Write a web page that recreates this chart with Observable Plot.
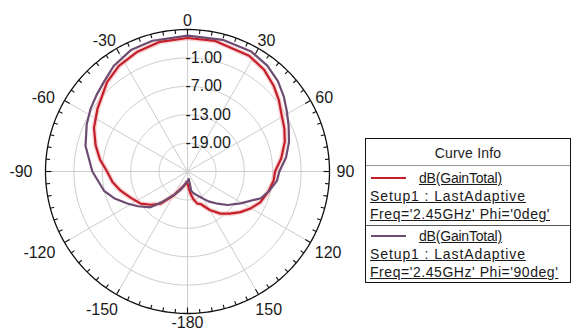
<!DOCTYPE html>
<html><head><meta charset="utf-8">
<script src="https://cdn.jsdelivr.net/npm/d3@7"></script>
<script src="https://cdn.jsdelivr.net/npm/@observablehq/plot@0.6"></script>
<style>
body{margin:0;background:#fff;}
#wrap{position:relative;width:574px;height:331px;overflow:hidden;font-family:"Liberation Sans",Arial,sans-serif;color:#1a1a1a;}
#chart{position:absolute;left:0;top:0;}
#legend{position:absolute;left:365px;top:138px;width:206px;height:145px;border:1px solid #111;box-sizing:border-box;background:#fff;}
#legend .t{position:absolute;font-size:14px;line-height:16px;white-space:nowrap;text-decoration:underline;text-underline-offset:1px;}
#legend .hdr{position:absolute;left:0;width:100%;top:6px;text-align:center;font-size:14px;line-height:16px;letter-spacing:0.2px;}
#legend .sep{position:absolute;left:0;width:100%;height:0;border-top:1px solid #9a9a9a;}
#legend .sw{position:absolute;left:5px;width:35px;height:0;border-top:2.5px solid;}
</style></head><body>
<div id="wrap"><div id="chart"></div><div id="legend"></div></div>
<script>
// ---- data ----
const angleTicks  = [0, 30, 60, 90, 120, 150, 180, -150, -120, -90, -60, -30];
const angleLabels = ["0","30","60","90","120","150","-180","-150","-120","-90","-60","-30"];
const ringValues  = [-19, -13, -7, -1];
const ringLabels  = ["-19.00", "-13.00", "-7.00", "-1.00"];
const rMin = -25, rMax = 5;

const seriesNames = ["Phi='0deg'", "Phi='90deg'"];
const seriesColors = ["#c41e2a", "#6c4c70"];

// Phi = 0deg (red)
const phi0Angles = [-180,-175,-168,-158,-150,-140,-132,-124.5,-115,-106,-98,-90,-82,-74,-65,-55,-42,-33,-23,-12,0,12,28,37,45,52,59,66,73,82,90,96,104,113,120,127.5,135,142,150,158,163,168,172,176];
const phi0Gain   = [-22.5,-22.7,-22.0,-21.0,-19.2,-16.1,-14.5,-13.0,-11.8,-10.3,-9.0,-8.0,-6.3,-4.8,-3.2,-1.8,0.4,1.6,2.4,3.0,3.2,3.2,2.7,1.9,0.7,-0.5,-1.8,-2.6,-3.5,-5.0,-6.5,-6.7,-7.4,-8.3,-9.5,-10.9,-12.4,-13.7,-15.6,-17.6,-17.9,-19.0,-20.2,-21.5];

// Phi = 90deg (purple)
const phi90Angles = [-180,-170,-160,-150,-140,-134,-125,-118,-110,-103,-90,-76,-65,-57,-50,-43,-35,-25,-15,0,15,28,37,45,52,59,66,74,82,90,96,103,110,121,130,137,145,153,160,165,169,170,175];
const phi90Gain   = [-23.0,-22.4,-21.0,-19.3,-16.5,-14.1,-12.2,-10.6,-8.5,-6.9,-4.9,-2.8,-1.5,-0.6,0.1,0.9,2.2,3.3,3.6,3.7,3.8,3.7,3.0,2.0,0.8,-0.5,-1.6,-2.7,-4.0,-5.6,-6.0,-7.2,-8.5,-11.9,-14.0,-15.7,-17.3,-18.9,-19.8,-20.3,-20.8,-23.4,-23.2];

const legendTexts = ["dB(GainTotal)", "Setup1 : LastAdaptive", "Freq='2.45GHz' "];

// ---- geometry helpers ----
const W = 574, H = 331;
const CX = 187, CY = 171, RPX = 142;          // centre and outer radius in pixels (layout)
const span = rMax - rMin;
const pxPerUnit = RPX / span;
const rad = d => d * Math.PI / 180;
const px = (deg, dB) => (dB - rMin) * Math.sin(rad(deg));
const py = (deg, dB) => (dB - rMin) * Math.cos(rad(deg));

const curves = [];
phi0Angles.forEach((a, i) => curves.push({s: seriesNames[0], a, g: phi0Gain[i]}));
phi90Angles.forEach((a, i) => curves.push({s: seriesNames[1], a, g: phi90Gain[i]}));

const ringPts = [];
ringValues.forEach(v => { for (let a = 0; a <= 360; a += 2) ringPts.push({v, a}); });
const outerPts = []; for (let a = 0; a <= 360; a += 1) outerPts.push({a});

const tickAngles = d3.range(-180, 180, 5);

// label placement: text box just outside the outer circle
const charW = c => c === "-" ? 5.3 : 8.9;
const gap = 7, txtH = 12;
const labelData = angleTicks.map((a, i) => {
  const t = angleLabels[i];
  const w = [...t].reduce((s, c) => s + charW(c), 0);
  const ux = Math.sin(rad(a)), uy = Math.cos(rad(a));
  let dx = (RPX + gap) * ux + (w / 2) * ux - 6 * Math.max(0, -ux);
  let dy = (RPX + gap) * uy + (txtH / 2) * uy - (Math.abs(uy) > 0.2 ? 4 : 0);
  dy = Math.max(dy, -(H - CY) + 8.5);   // keep inside the picture
  return {t, x: dx / pxPerUnit, y: dy / pxPerUnit};
});

const chart = Plot.plot({
  width: W, height: H,
  margin: 0,
  x: {domain: [-CX / pxPerUnit, (W - CX) / pxPerUnit], axis: null},
  y: {domain: [-(H - CY) / pxPerUnit, CY / pxPerUnit], axis: null},
  style: {fontFamily: "'Liberation Sans', Arial, sans-serif", background: "#fff"},
  color: {domain: seriesNames, range: seriesColors},
  marks: [
    Plot.line(ringPts, {x: d => px(d.a, d.v), y: d => py(d.a, d.v), z: "v", stroke: "#cdcdcd", strokeWidth: 1}),
    Plot.link(angleTicks, {x1: 0, y1: 0, x2: a => px(a, rMax), y2: a => py(a, rMax), stroke: "#cdcdcd", strokeWidth: 1}),
    Plot.line(outerPts, {x: d => px(d.a, rMax), y: d => py(d.a, rMax), stroke: "#111", strokeWidth: 1.3}),
    Plot.link(tickAngles, {
      x1: a => px(a, rMax), y1: a => py(a, rMax),
      x2: a => px(a, rMax - (a % 30 === 0 ? 6 : 4) / pxPerUnit),
      y2: a => py(a, rMax - (a % 30 === 0 ? 6 : 4) / pxPerUnit),
      stroke: "#111", strokeWidth: 1.1
    }),
    Plot.line(curves.filter(d => d.s === seriesNames[0]), {x: d => px(d.a, d.g), y: d => py(d.a, d.g), curve: "linear-closed", stroke: "#f4b7b7", strokeWidth: 5, strokeOpacity: 0.6}),
    Plot.line(curves, {x: d => px(d.a, d.g), y: d => py(d.a, d.g), z: "s", curve: "linear-closed",
      stroke: d => d.s, strokeWidth: 2.2, strokeLinejoin: "round"}),
    Plot.text(ringValues, {x: -2 / pxPerUnit, y: v => v - rMin, text: (v, i) => ringLabels[i], textAnchor: "start", lineAnchor: "middle", fontSize: 16, fill: "#1a1a1a"}),
    Plot.text(labelData, {x: "x", y: "y", text: "t", textAnchor: "middle", lineAnchor: "middle", fontSize: 16, fill: "#1a1a1a"})
  ]
});
document.getElementById("chart").appendChild(chart);

// ---- legend ----
const lg = document.getElementById("legend");
let html = `<div class="hdr">Curve Info</div><div class="sep" style="top:26px"></div>`;
seriesNames.forEach((name, i) => {
  const top = 30 + i * 58;
  html += `<div class="sw" style="top:${top + 8}px;border-top-color:${seriesColors[i]}"></div>`;
  html += `<div class="t" style="left:53px;top:${top + 1}px;letter-spacing:-0.2px">${legendTexts[0]}</div>`;
  html += `<div class="t" style="left:4px;top:${top + 19}px;letter-spacing:0.9px">${legendTexts[1]}</div>`;
  html += `<div class="t" style="left:4px;top:${top + 37}px;letter-spacing:0.55px">${legendTexts[2] + name}</div>`;
  if (i === 0) html += `<div class="sep" style="top:86px;border-top-color:#555"></div>`;
});
lg.innerHTML = html;
</script>
</body></html>
